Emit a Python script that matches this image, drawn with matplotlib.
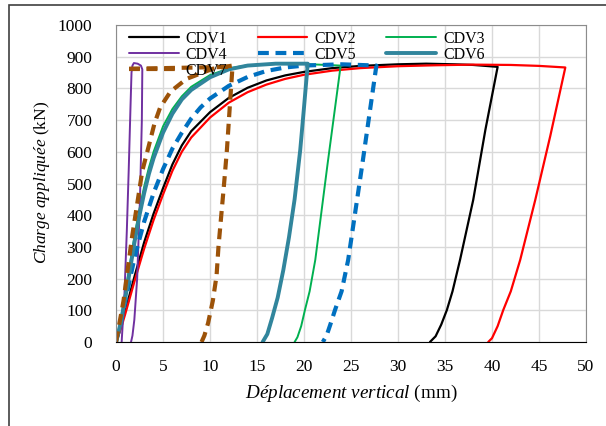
#!/usr/bin/env python3
"""Load-displacement curves CDV1..CDV7 (charge appliquée vs déplacement vertical)."""
import numpy as np
import matplotlib
matplotlib.use("Agg")
import matplotlib.pyplot as plt
from matplotlib.patches import Rectangle

plt.rcParams["font.family"] = ["Liberation Serif", "DejaVu Serif"]
plt.rcParams["mathtext.fontset"] = "custom"
plt.rcParams["mathtext.rm"] = "Liberation Serif"
plt.rcParams["mathtext.it"] = "Liberation Serif:italic"

nan = np.nan

# CDV1 - black
cdv1_x = [0, 0.5, 1, 2, 3, 4, 5, 6, 7, 8, 10, 12, 14, 16, 18, 20, 23, 26, 30, 33, 36, 38, 40.6,
          39.3, 38.0, 36.6, 35.8, 35.2, 34.6, 34.0, 33.4]
cdv1_y = [0, 48, 100, 210, 315, 405, 485, 560, 620, 665, 725, 770, 802, 825, 841, 852, 864, 871, 876, 878, 876, 874, 868,
          670, 448, 259, 160, 101, 55, 18, 0]

# CDV2 - red
cdv2_x = [0, 0.5, 1, 2, 3, 4, 5, 6, 7, 8, 10, 12, 14, 16, 18, 20, 23, 26, 30, 34, 38, 42, 45, 47.8,
          46.2, 44.6, 43.0, 42.0, 41.2, 40.6, 40.0, 39.6]
cdv2_y = [0, 40, 90, 195, 295, 385, 465, 540, 600, 645, 708, 755, 788, 812, 830, 843, 856, 864, 870, 873, 875, 874, 871, 866,
          650, 448, 259, 160, 101, 50, 12, 0]

# CDV3 - green
cdv3_x = [0, 0.5, 1, 1.5, 2, 2.5, 3, 3.5, 4, 5, 6, 7, 8, 10, 12, 14, 17, 20, 23.9,
          22.5, 21.2, 20.6, 20.1, 19.7, 19.3, 19.0]
cdv3_y = [0, 70, 160, 250, 340, 420, 490, 550, 600, 680, 735, 775, 805, 842, 863, 873, 877, 877, 872,
          560, 259, 160, 101, 50, 15, 0]

# CDV4 - purple
cdv4_x = [0.6, 0.9, 1.15, 1.35, 1.55, 1.65, 1.75, 1.9, 2.3, 2.65, 2.8, 2.75, 2.55, 2.25, 1.95, 1.75, 1.6]
cdv4_y = [0, 150, 350, 540, 750, 850, 872, 880, 878, 872, 860, 700, 450, 200, 70, 20, 0]

# CDV5 - blue dashed
cdv5_x = [0, 0.5, 1, 1.5, 2, 3, 4, 5, 6, 7, 8, 9, 10, 12, 14, 16, 18, 20, 24, 27.7,
          26.2, 24.7, 24.0, 23.3, 22.8, 22.4, 22.0]
cdv5_y = [0, 60, 130, 200, 270, 380, 470, 545, 610, 660, 705, 740, 768, 808, 836, 855, 866, 872, 876, 872,
          560, 259, 160, 101, 55, 20, 0]

# CDV6 - teal
cdv6_x = [0, 0.5, 1, 1.5, 2, 2.5, 3, 3.5, 4, 5, 6, 7, 8, 10, 12, 14, 17, 20.4,
          20.0, 19.6, 19.0, 18.4, 17.8, 17.2, 16.6, 16.1, 15.6]
cdv6_y = [0, 60, 140, 230, 320, 400, 470, 530, 580, 660, 720, 765, 795, 835, 860, 872, 878, 878,
          740, 606, 450, 330, 227, 140, 75, 25, 0]

# CDV7 - brown dashed (top segment drawn apart)
cdv7_x = [1.4, 12.4, nan,
          0, 0.8, 1.7, 2.8, 3.5, 4.1, 4.7, 5.8, 7.5, 10.3, 12.4,
          12.1, 11.8, 11.5, 11.2, 10.9, 10.7, 10.3, 9.8, 9.4, 9.1]
cdv7_y = [862, 868, nan,
          0, 130, 330, 540, 620, 690, 740, 790, 830, 862, 872,
          740, 606, 500, 400, 300, 210, 130, 60, 20, 0]

SERIES = [
    ("CDV1", cdv1_x, cdv1_y, "#000000", 1.6, "-"),
    ("CDV2", cdv2_x, cdv2_y, "#FF0000", 1.6, "-"),
    ("CDV3", cdv3_x, cdv3_y, "#00B050", 1.4, "-"),
    ("CDV4", cdv4_x, cdv4_y, "#7030A0", 1.4, "-"),
    ("CDV5", cdv5_x, cdv5_y, "#0070C0", 3.0, (0, (2.6, 1.6))),
    ("CDV6", cdv6_x, cdv6_y, "#31859C", 2.8, "-"),
    ("CDV7", cdv7_x, cdv7_y, "#9C5208", 3.0, (0, (2.6, 1.6))),
]


def main() -> None:
    fig = plt.figure(figsize=(6.06, 4.26), dpi=100)
    ax = fig.add_axes([116 / 606, 1 - 342 / 426, 470 / 606, 317 / 426])

    lines = {}
    for name, xs, ys, col, lw, ls in SERIES:
        (ln,) = ax.plot(xs, ys, color=col, lw=lw, ls=ls, label=name,
                        solid_joinstyle="round", solid_capstyle="round")
        lines[name] = ln

    ax.set_xlim(0, 50)
    ax.set_ylim(0, 1000)
    ax.set_xticks(range(0, 51, 5))
    ax.set_yticks(range(0, 1001, 100))
    ax.grid(True, color="#D9D9D9", lw=1.0)
    ax.set_axisbelow(True)
    ax.tick_params(axis="x", length=0, pad=12, labelsize=12.5)
    ax.tick_params(axis="y", length=0, pad=17, labelsize=12.5)
    for side in ("left", "top", "right"):
        ax.spines[side].set_color("#8C8C8C")
    ax.spines["bottom"].set_color("#000000")

    fig.text(351 / 606, 1 - 393 / 426, r"$\mathit{Déplacement\ vertical}$ (mm)",
             ha="center", va="center", fontsize=13.8)
    fig.text(42 / 606, 1 - 182 / 426, r"$\mathit{Charge\ appliquée}$ (kN)",
             ha="center", va="center", rotation=90, fontsize=12.5)

    # legend is filled column by column -> reorder to read row by row
    order = ["CDV1", "CDV4", "CDV7", "CDV2", "CDV5", "CDV3", "CDV6"]
    ax.legend([lines[n] for n in order], order,
              ncol=3, loc="upper left", bbox_to_anchor=(129 / 606, 1 - 31 / 426),
              bbox_transform=fig.transFigure, frameon=False, fontsize=11.5,
              handlelength=3.1, handletextpad=0.45, columnspacing=1.9,
              labelspacing=0.0, borderpad=0, borderaxespad=0)

    fig.patches.append(Rectangle((9 / 606, -0.2), 1.2, 1.2 - 5 / 426,
                                 transform=fig.transFigure, fill=False,
                                 edgecolor="#404040", lw=1.2))
    fig.savefig("out.png", dpi=100)


if __name__ == "__main__":
    main()
